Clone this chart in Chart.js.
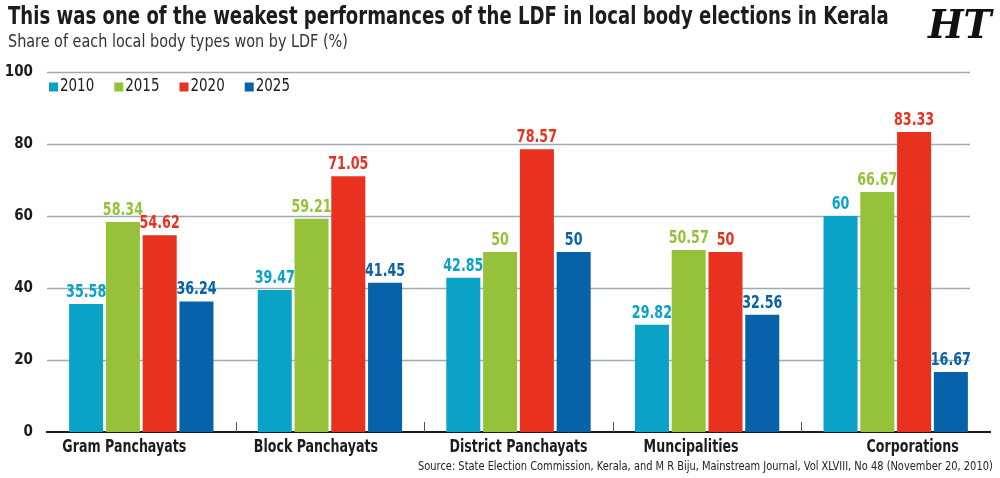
<!DOCTYPE html>
<html>
<head>
<meta charset="utf-8">
<script src="https://cdn.jsdelivr.net/npm/chart.js@4"></script>
<style>
  body { margin: 0; background: #fff; }
  #wrap { position: relative; width: 1000px; height: 478px; overflow: hidden; }
  #chart { position: absolute; left: 0; top: 0; }
  .txt { position: absolute; font-family: "DejaVu Sans Condensed", sans-serif; color: #1c1c1c; white-space: nowrap; transform-origin: 0 0; }
  #title { left: 8px; top: 2px; font-size: 24px; font-weight: bold; }
  #subtitle { left: 8px; top: 31px; font-size: 17px; color: #333; }
  #logo { left: 928px; top: 0px; font-family: "DejaVu Serif", serif; font-size: 40px; font-weight: bold; font-style: italic; color: #111; }
  #source { left: 418px; top: 458px; font-size: 13px; color: #222; }
</style>
</head>
<body>
<div id="wrap">
  <canvas id="chart" width="1000" height="478"></canvas>
  <div class="txt" id="title">This was one of the weakest performances of the LDF in local body elections in Kerala</div>
  <div class="txt" id="subtitle">Share of each local body types won by LDF (%)</div>
  <div class="txt" id="logo">HT</div>
  <div class="txt" id="source">Source: State Election Commission, Kerala, and M R Biju, Mainstream Journal, Vol XLVIII, No 48 (November 20, 2010)</div>
</div>
<script>
const categories = ['Gram Panchayats', 'Block Panchayats', 'District Panchayats', 'Muncipalities', 'Corporations'];
const years = ['2010', '2015', '2020', '2025'];
const share2010 = [35.58, 39.47, 42.85, 29.82, 60];
const share2015 = [58.34, 59.21, 50, 50.57, 66.67];
const share2020 = [54.62, 71.05, 78.57, 50, 83.33];
const share2025 = [36.24, 41.45, 50, 32.56, 16.67];
const yTicks = [0, 20, 40, 60, 80, 100];

const colors = ['#0aa2c6', '#96c13b', '#e8321f', '#0862aa'];
const FONT = '"DejaVu Sans Condensed", sans-serif';
// small horizontal shifts of the category labels, as in the original layout
const labelNudge = [-17, -14, 0, -16, 17];

// squeeze the html texts to the widths they have in the original
function fitWidth(id, w) {
    const el = document.getElementById(id);
    el.style.transform = 'scaleX(' + (w / el.scrollWidth) + ')';
}
fitWidth('title', 881);
fitWidth('subtitle', 340);
fitWidth('source', 575);
fitWidth('logo', 64);

function condensedText(c, text, x, y, sx) {
    c.save();
    c.translate(x, y);
    c.scale(sx, 1);
    c.fillText(text, 0, 0);
    c.restore();
}

const ctx = document.getElementById('chart');

const decor = {
    id: 'decor',
    beforeDatasetsDraw(chart) {
        const c = chart.ctx;
        const area = chart.chartArea;
        const y = chart.scales.y;
        const x = chart.scales.x;
        c.save();
        c.strokeStyle = '#9eabb3';
        c.lineWidth = 1.5;
        yTicks.forEach(t => {
            if (t === 0) return;
            const py = Math.round(y.getPixelForValue(t)) + 0.5;
            c.beginPath();
            c.moveTo(area.left, py);
            c.lineTo(area.right - 20, py);
            c.stroke();
        });
        c.strokeStyle = '#555';
        c.lineWidth = 1;
        for (let i = 1; i < categories.length; i++) {
            const px = Math.round((x.getPixelForValue(i - 1) + x.getPixelForValue(i)) / 2) + 0.5;
            c.beginPath();
            c.moveTo(px, area.bottom - 10);
            c.lineTo(px, area.bottom);
            c.stroke();
        }

        // legend inside the plot, top left
        c.font = '17px ' + FONT;
        c.textBaseline = 'middle';
        c.textAlign = 'left';
        let lx = area.left + 2;
        const ly = area.top + 15;
        chart.data.datasets.forEach(ds => {
            c.fillStyle = ds.backgroundColor;
            c.fillRect(lx, ly - 4.5, 9, 9);
            c.fillStyle = '#1c1c1c';
            condensedText(c, ds.label, lx + 11, ly, 0.88);
            lx += 11 + c.measureText(ds.label).width * 0.88 + 20;
        });
        c.restore();
    },
    afterDatasetsDraw(chart) {
        const c = chart.ctx;
        c.save();
        c.font = 'bold 17px ' + FONT;
        c.textAlign = 'center';
        c.textBaseline = 'bottom';
        chart.data.datasets.forEach((ds, di) => {
            const meta = chart.getDatasetMeta(di);
            c.fillStyle = ds.backgroundColor;
            meta.data.forEach((bar, i) => {
                condensedText(c, String(ds.data[i]), bar.x, bar.y - 3, 0.83);
            });
        });
        const x = chart.scales.x;
        c.fillStyle = '#1c1c1c';
        c.textBaseline = 'middle';
        c.font = '600 18px ' + FONT;
        categories.forEach((lab, i) => {
            condensedText(c, lab, x.getPixelForValue(i) + labelNudge[i], chart.chartArea.bottom + 15, 0.78);
        });
        c.restore();
    }
};

new Chart(ctx, {
    type: 'bar',
    data: {
        labels: categories,
        datasets: [
            { label: years[0], data: share2010, backgroundColor: colors[0] },
            { label: years[1], data: share2015, backgroundColor: colors[1] },
            { label: years[2], data: share2020, backgroundColor: colors[2] },
            { label: years[3], data: share2025, backgroundColor: colors[3] }
        ]
    },
    options: {
        responsive: false,
        animation: false,
        events: [],
        categoryPercentage: 0.78,
        barPercentage: 0.925,
        layout: { padding: { top: 72, right: 10, bottom: 0, left: 0 } },
        scales: {
            x: {
                grid: { display: false },
                border: { display: true, color: '#1c1c1c', width: 2 },
                ticks: { display: false },
                afterFit(scale) { scale.height = 46; }
            },
            y: {
                min: 0,
                max: 100,
                grid: { display: false, drawTicks: false },
                border: { display: false },
                ticks: {
                    stepSize: 20,
                    padding: 14,
                    color: '#1c1c1c',
                    font: { family: FONT, size: 15, weight: 'bold' }
                },
                afterFit(scale) { scale.width = 47; }
            }
        },
        plugins: {
            legend: { display: false },
            tooltip: { enabled: false }
        }
    },
    plugins: [decor]
});
</script>
</body>
</html>
